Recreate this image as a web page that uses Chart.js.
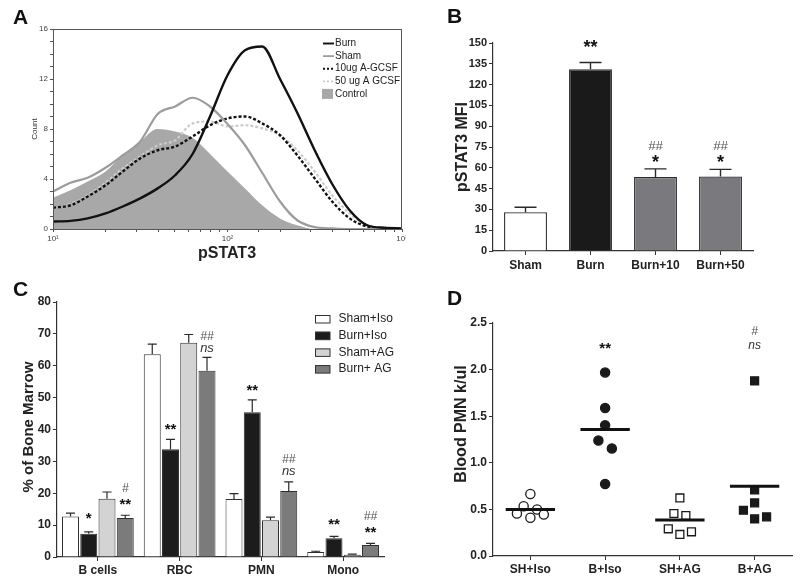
<!DOCTYPE html>
<html><head><meta charset="utf-8">
<script src="https://cdn.jsdelivr.net/npm/chart.js@4.4.1/dist/chart.umd.min.js"></script>
<style>
html,body{margin:0;padding:0;background:#fff}
body{width:800px;height:579px;position:relative;overflow:hidden}
canvas{position:absolute}
</style></head>
<body>
<canvas id="cA" width="406" height="272" style="left:0;top:0"></canvas>
<canvas id="cB" width="390" height="280" style="left:410px;top:0"></canvas>
<canvas id="cC" width="410" height="299" style="left:0;top:280px"></canvas>
<canvas id="cD" width="390" height="299" style="left:410px;top:280px"></canvas>
<script>
// ================= DATA =================
// Panel A: flow histogram (channel grid on log axis)
const aChannels = [10,12.6,15.8,20,25.1,31.6,39.8,50.1,63.1,79.4,100,126,158,200,251,316,398,501,631,794,1000];
const aBurn     = [0.6,0.65,0.85,1.25,1.8,2.45,3.25,4.3,6.0,9.0,12.3,14.3,14.6,12.0,9.3,6.3,3.6,1.5,0.3,0.1,0.05];
const aSham     = [3.0,3.7,4.1,4.9,5.9,7.0,9.2,9.8,10.5,9.8,8.4,6.7,4.5,2.2,0.7,0.15,0.05,0,0,0,0];
const a10ug     = [1.7,1.9,2.6,3.5,4.6,5.65,6.3,6.6,7.4,8.3,8.85,9.0,8.45,7.5,5.9,4.05,2.2,0.85,0.2,0.05,0];
const a50ug     = [1.65,2.0,2.7,3.7,4.85,5.8,6.7,7.1,8.45,8.6,8.2,8.3,8.05,7.5,6.3,4.6,2.7,1.25,0.3,0.05,0];
const aControl  = [2.5,3.1,3.8,4.6,5.9,7.0,8.0,7.8,7.3,6.0,4.6,3.25,1.9,0.85,0.3,0,0,0,0,0,0];
const aSeriesNames = ['Burn','Sham','10ug A-GCSF','50 ug A GCSF','Control'];

// Panel B: pSTAT3 MFI
const bCategories = ['Sham','Burn','Burn+10','Burn+50'];
const bMFI    = [28.0,131.1,53.4,53.7];
const bMFISem = [3.6,4.8,5.8,5.2];

// Panel C: % of bone marrow
const cCategories = ['B cells','RBC','PMN','Mono'];
const cGroups = ['Sham+Iso','Burn+Iso','Sham+AG','Burn+ AG'];
const cShamIso = [12.7,63.6,18.2,1.6];
const cBurnIso = [7.3,33.8,45.4,5.9];
const cShamAG  = [18.3,67.2,11.5,0.7];
const cBurnAG  = [12.2,58.4,20.7,3.8];
const cShamIsoSem = [1.05,3.2,1.7,0.2];
const cBurnIsoSem = [0.6,3.1,3.9,0.6];
const cShamAGSem  = [2.1,2.6,1.0,0.2];
const cBurnAGSem  = [0.9,4.2,2.9,0.5];

// Panel D: blood PMN (x = group index + jitter)
const dCategories = ['SH+Iso','B+Iso','SH+AG','B+AG'];
const dShamIsoX = [0,-0.09,-0.18,0.09,0,0.18];
const dShamIsoY = [0.666,0.534,0.456,0.499,0.41,0.445];
const dBurnIsoX = [1,1,1,0.91,1.09,1];
const dBurnIsoY = [1.969,1.588,1.403,1.239,1.154,0.773];
const dShamAGX  = [2,1.92,2.08,1.845,2,2.155];
const dShamAGY  = [0.623,0.456,0.434,0.292,0.231,0.26];
const dBurnAGX  = [3,3,3,2.85,3,3.16];
const dBurnAGY  = [1.88,0.709,0.57,0.491,0.399,0.42];
const dMeans    = [0.499,1.357,0.385,0.748];

// ================= HELPERS =================
const FAM = "'Liberation Sans', Arial, Helvetica, sans-serif";
const f = (s, w) => (w ? w + ' ' : '') + s + 'px ' + FAM;

function textPlugin(items){
  return {id:'texts'+Math.random(), afterDraw(chart){
    const ctx = chart.ctx;
    items.forEach(it=>{
      ctx.save();
      ctx.font = it.font; ctx.fillStyle = it.color || '#111';
      ctx.textAlign = it.align || 'center'; ctx.textBaseline = it.baseline || 'middle';
      ctx.translate(it.x, it.y);
      if (it.rot) ctx.rotate(it.rot);
      ctx.fillText(it.text, 0, 0);
      ctx.restore();
    });
  }};
}
function marksPlugin(marks, kind){
  return {id:'marks'+Math.random(), afterDatasetsDraw(chart){
    const ctx = chart.ctx;
    marks.forEach(m=>{
      const x = kind === 'bar' ? chart.getDatasetMeta(m.ds).data[m.i].x : chart.scales.x.getPixelForValue(m.i);
      const y = chart.scales.y.getPixelForValue(m.v);
      ctx.save();
      ctx.font = m.font; ctx.fillStyle = m.color || '#111';
      ctx.textAlign = 'center'; ctx.textBaseline = 'alphabetic';
      const mt = ctx.measureText(m.t);
      ctx.fillText(m.t, x, y + (mt.actualBoundingBoxAscent - mt.actualBoundingBoxDescent)/2);
      ctx.restore();
    });
  }};
}
function errPlugin(values, sems, capW, lw){
  return {id:'err'+Math.random(), afterDatasetsDraw(chart){
    const ctx = chart.ctx;
    chart.data.datasets.forEach((d, di)=>{
      chart.getDatasetMeta(di).data.forEach((bar, i)=>{
        const yT = chart.scales.y.getPixelForValue(values[di][i] + sems[di][i]);
        ctx.save();
        ctx.strokeStyle = '#2a2a2a'; ctx.lineWidth = lw;
        ctx.beginPath();
        ctx.moveTo(bar.x, bar.y); ctx.lineTo(bar.x, yT);
        ctx.moveTo(bar.x - capW/2, yT); ctx.lineTo(bar.x + capW/2, yT);
        ctx.stroke(); ctx.restore();
      });
    });
  }};
}
const fixY = w => s => { s.width = w; s.paddingTop = 0; s.paddingBottom = 0; };
const fixX = h => s => { s.height = h; s.paddingLeft = 0; s.paddingRight = 0; };
const noPlug = {legend:{display:false}, tooltip:{enabled:false}, title:{display:false}};

// ================= PANEL A =================
const pts = arr => aChannels.map((x,i)=>({x, y:arr[i]}));
const sup = {1:'\u00b9',2:'\u00b2',3:'\u00b3'};
const lineA = (label, arr, color, w, dash) => ({label, data:pts(arr), borderColor:color, borderWidth:w, borderDash:dash||[], pointRadius:0, fill:false, cubicInterpolationMode:'monotone'});
const framePlugin = {id:'frame', afterDatasetsDraw(chart){
  const {left,top,right,bottom} = chart.chartArea, ctx = chart.ctx;
  ctx.save(); ctx.strokeStyle = '#555'; ctx.lineWidth = 1;
  ctx.strokeRect(left+0.5, top+0.5, right-left-1, bottom-top); ctx.restore();
}};
const legendAPlugin = {id:'legA', afterDraw(chart){
  const ctx = chart.ctx;
  chart.data.datasets.forEach((d,i)=>{
    const y = 43.5 + i*12.6;
    ctx.save();
    if (d.fill) { ctx.fillStyle = d.backgroundColor; ctx.fillRect(322, y-5, 11, 10); }
    else { ctx.strokeStyle = d.borderColor; ctx.lineWidth = d.borderWidth*0.8; ctx.setLineDash(d.borderDash.length?[2,2]:[]);
      ctx.beginPath(); ctx.moveTo(323, y); ctx.lineTo(334, y); ctx.stroke(); }
    ctx.fillStyle = '#222'; ctx.font = f(10); ctx.textAlign='left'; ctx.textBaseline='middle';
    ctx.fillText(aSeriesNames[i], 335, y);
    ctx.restore();
  });
}};
new Chart(document.getElementById('cA'), {
  type:'line',
  data:{datasets:[
    lineA(aSeriesNames[0], aBurn, '#111', 2.4),
    lineA(aSeriesNames[1], aSham, '#9c9c9c', 2.2),
    lineA(aSeriesNames[2], a10ug, '#111', 2.4, [3,2]),
    lineA(aSeriesNames[3], a50ug, '#cbcbcb', 2.2, [3,2]),
    {label:aSeriesNames[4], data:pts(aControl), borderWidth:0, backgroundColor:'#a8a8a8', fill:'origin', pointRadius:0, cubicInterpolationMode:'monotone'}
  ]},
  options:{responsive:false, animation:false, layout:{padding:{left:0,top:29,right:4,bottom:0}},
    plugins:noPlug,
    scales:{
      x:{type:'logarithmic', min:10, max:1000, afterFit:fixX(43),
        ticks:{autoSkip:false, maxRotation:0, padding:2, color:'#444', font:{family:FAM,size:8},
          callback:v=>{const l=Math.log10(v); return Math.abs(l-Math.round(l))<1e-6 ? '10'+sup[Math.round(l)] : '';}},
        grid:{drawOnChartArea:false, tickLength:3, color:'#555'}, border:{color:'#555'}},
      y:{min:0, max:16, afterFit:fixY(53),
        ticks:{stepSize:1, autoSkip:false, padding:2, color:'#444', font:{family:FAM,size:8}, callback:v=> v%4===0 ? v : ''},
        grid:{drawOnChartArea:false, tickLength:3, color:'#555'}, border:{color:'#555'}}
    }},
  plugins:[framePlugin, legendAPlugin, textPlugin([
    {text:'A', x:13, y:24, font:f(21,'bold'), align:'left', baseline:'alphabetic'},
    {text:'pSTAT3', x:227, y:254, font:f(16,'bold'), color:'#222'},
    {text:'Count', x:35, y:129, font:f(8), color:'#333', rot:-Math.PI/2}
  ])]
});

// ================= PANEL B =================
const axisCommon = {grid:{drawOnChartArea:false, tickLength:4, color:'#333', offset:false}, border:{color:'#333', width:1.2}};
new Chart(document.getElementById('cB'), {
  type:'bar',
  data:{labels:bCategories, datasets:[{data:bMFI, backgroundColor:['#ffffff','#1a1a1a','#7a7a7e','#7a7a7e'], borderColor:'#2a2a2a', borderWidth:1.3, categoryPercentage:1, barPercentage:0.66}]},
  options:{responsive:false, animation:false, layout:{padding:{left:0,top:43,right:47,bottom:0}},
    plugins:noPlug,
    scales:{
      x:{...axisCommon, afterFit:fixX(29), ticks:{padding:3, color:'#222', font:{family:FAM,size:12,weight:'bold'}}},
      y:{...axisCommon, min:0, max:150, afterFit:fixY(83), ticks:{stepSize:15, autoSkip:false, padding:2, color:'#222', font:{family:FAM,size:11,weight:'bold'}}}
    }},
  plugins:[errPlugin([bMFI],[bMFISem],22,1.4), marksPlugin([
    {ds:0,i:1,v:150,t:'**',font:f(18,'bold')},
    {ds:0,i:2,v:76,t:'##',font:f(13,'italic'),color:'#555'},
    {ds:0,i:2,v:67,t:'*',font:f(18,'bold')},
    {ds:0,i:3,v:76,t:'##',font:f(13,'italic'),color:'#555'},
    {ds:0,i:3,v:67,t:'*',font:f(18,'bold')}
  ],'bar'), textPlugin([
    {text:'B', x:37, y:23, font:f(21,'bold'), align:'left', baseline:'alphabetic'},
    {text:'pSTAT3 MFI', x:52.5, y:147, font:f(16,'bold'), color:'#222', rot:-Math.PI/2}
  ])]
});

// ================= PANEL C =================
const cVals = [cShamIso,cBurnIso,cShamAG,cBurnAG];
const cSems = [cShamIsoSem,cBurnIsoSem,cShamAGSem,cBurnAGSem];
const cFill = ['#ffffff','#1c1c1c','#d3d3d3','#7b7b7b'];
const legendCPlugin = {id:'legC', afterDraw(chart){
  const ctx = chart.ctx;
  chart.data.datasets.forEach((d,i)=>{
    const y = 39 + i*16.7;
    ctx.save();
    ctx.fillStyle = d.backgroundColor; ctx.fillRect(315, y-4, 15, 8);
    ctx.strokeStyle = '#333'; ctx.lineWidth = 1; ctx.strokeRect(315.5, y-3.5, 14.5, 7.5);
    ctx.fillStyle = '#222'; ctx.font = f(12); ctx.textAlign='left'; ctx.textBaseline='middle';
    ctx.fillText(d.label, 338.5, y);
    ctx.restore();
  });
}};
new Chart(document.getElementById('cC'), {
  type:'bar',
  data:{labels:cCategories, datasets:cGroups.map((g,i)=>({label:g, data:cVals[i], backgroundColor:cFill[i], borderColor:'#2f2f2f', borderWidth:1, categoryPercentage:0.893, barPercentage:0.93}))},
  options:{responsive:false, animation:false, layout:{padding:{left:0,top:22,right:26,bottom:0}},
    plugins:noPlug,
    scales:{
      x:{...axisCommon, afterFit:fixX(22), ticks:{padding:2, color:'#222', font:{family:FAM,size:12,weight:'bold'}}},
      y:{...axisCommon, min:0, max:80, afterFit:fixY(57), ticks:{stepSize:10, autoSkip:false, padding:2, color:'#222', font:{family:FAM,size:12,weight:'bold'}}}
    }},
  plugins:[errPlugin(cVals,cSems,9,1.2), marksPlugin([
    {ds:1,i:0,v:12.9,t:'*',font:f(15,'bold')},
    {ds:3,i:0,v:21.9,t:'#',font:f(12,'italic'),color:'#555'},
    {ds:3,i:0,v:17.4,t:'**',font:f(15,'bold')},
    {ds:1,i:1,v:40.9,t:'**',font:f(15,'bold')},
    {ds:3,i:1,v:69.6,t:'##',font:f(12,'italic'),color:'#555'},
    {ds:3,i:1,v:65.5,t:'ns',font:f(13,'italic'),color:'#333'},
    {ds:1,i:2,v:52.9,t:'**',font:f(15,'bold')},
    {ds:3,i:2,v:30.8,t:'##',font:f(12,'italic'),color:'#555'},
    {ds:3,i:2,v:26.7,t:'ns',font:f(13,'italic'),color:'#333'},
    {ds:1,i:3,v:11.1,t:'**',font:f(15,'bold')},
    {ds:3,i:3,v:13.0,t:'##',font:f(12,'italic'),color:'#555'},
    {ds:3,i:3,v:8.6,t:'**',font:f(15,'bold')}
  ],'bar'), legendCPlugin, textPlugin([
    {text:'C', x:13, y:16, font:f(21,'bold'), align:'left', baseline:'alphabetic'},
    {text:'% of Bone Marrow', x:28.5, y:147, font:f(15,'bold'), color:'#222', rot:-Math.PI/2}
  ])]
});

// ================= PANEL D =================
const xy = (X,Y) => X.map((x,i)=>({x, y:Y[i]}));
const ptSet = (X,Y,style,fill,r) => ({type:'scatter', data:xy(X,Y), pointStyle:style, pointRadius:r, pointBackgroundColor:fill, pointBorderColor:'#1a1a1a', pointBorderWidth:1.3, showLine:false});
const meanSets = dMeans.map((m,i)=>({type:'line', data:[{x:i-0.33,y:m},{x:i+0.33,y:m}], borderColor:'#111', borderWidth:3, pointRadius:0, showLine:true}));
new Chart(document.getElementById('cD'), {
  type:'scatter',
  data:{datasets:[
    ...meanSets,
    ptSet(dShamIsoX,dShamIsoY,'circle','#ffffff',4.6),
    ptSet(dBurnIsoX,dBurnIsoY,'circle','#1a1a1a',4.6),
    ptSet(dShamAGX,dShamAGY,'rect','#ffffff',5.6),
    ptSet(dBurnAGX,dBurnAGY,'rect','#1a1a1a',5.6)
  ]},
  options:{responsive:false, animation:false, layout:{padding:{left:0,top:43,right:8,bottom:0}},
    plugins:noPlug,
    scales:{
      x:{type:'linear', min:-0.5, max:3.5, ...axisCommon, afterFit:fixX(23),
        afterBuildTicks:s=>{s.ticks = dCategories.map((_,i)=>({value:i}));},
        ticks:{autoSkip:false, padding:2, color:'#222', font:{family:FAM,size:12,weight:'bold'}, callback:v=>dCategories[v]}},
      y:{min:0, max:2.5, ...axisCommon, afterFit:fixY(83),
        ticks:{stepSize:0.5, autoSkip:false, padding:2, color:'#222', font:{family:FAM,size:12,weight:'bold'}, callback:v=>v.toFixed(1)}}
    }},
  plugins:[marksPlugin([
    {i:1,v:2.25,t:'**',font:f(15,'bold')},
    {i:3,v:2.415,t:'#',font:f(12,'italic'),color:'#555'},
    {i:3,v:2.26,t:'ns',font:f(12,'italic'),color:'#333'}
  ],'xy'), textPlugin([
    {text:'D', x:37, y:25, font:f(21,'bold'), align:'left', baseline:'alphabetic'},
    {text:'Blood PMN k/ul', x:52, y:144, font:f(16,'bold'), color:'#222', rot:-Math.PI/2}
  ])]
});
</script>
</body></html>
